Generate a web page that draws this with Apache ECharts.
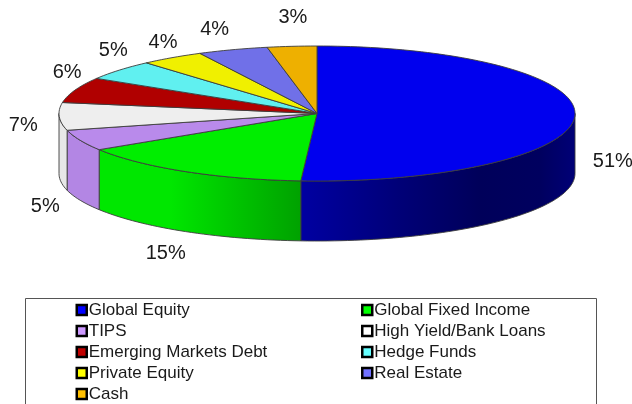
<!DOCTYPE html>
<html><head><meta charset="utf-8">
<style>html,body{margin:0;padding:0;background:#fff;overflow:hidden}#c{width:632px;height:404px}</style>
<script src="https://cdn.jsdelivr.net/npm/echarts@6/dist/echarts.min.js"></script>
</head><body><div id="c"></div>
<script>
const categories = ['Global Equity','Global Fixed Income','TIPS','High Yield/Bank Loans','Emerging Markets Debt','Hedge Funds','Private Equity','Real Estate','Cash'];
const values = [51,15,5,6.6,6.1,4.8,4,4.4,3.1];
const topColors = ['#0000ee','#00ee00','#b98aeb','#eeeeee','#b00000','#60f0f0','#f0f000','#7070e8','#eeb000'];
const legendColors = ['#0000ff','#00ff00','#cc99ff','#ffffff','#c00000','#66ffff','#ffff00','#7070ff','#ffc000'];
const labelOffsets = [[38,46],[-20,22],[-35,6],[-36,9],[-8,-18],[-6,-20],[-9,-15],[-18,-20],[1,-29]];

const CX=317, CY=113.5, RX=258, RY=67.5, DEPTH=60;
const total = values.reduce((a,b)=>a+b,0);
const pt=(deg,dy=0)=>{const t=deg*Math.PI/180;return [CX+RX*Math.sin(t),CY-RY*Math.cos(t)+dy];};
const arc=(a,b,dy=0)=>{const n=Math.max(2,Math.ceil(Math.abs(b-a)/1.5));const r=[];for(let i=0;i<=n;i++)r.push(pt(a+(b-a)*i/n,dy));return r;};
function shade(hex,k){const n=parseInt(hex.slice(1),16);return 'rgb('+[(n>>16)&255,(n>>8)&255,n&255].map(v=>Math.round(v*k)).join(',')+')';}
function wallFill(hex){
  const x0=CX-RX,w=2*RX,s=(x,k)=>({offset:(x-x0)/w,color:shade(hex,k)});
  return {type:'linear',global:true,x:x0,y:0,x2:x0+w,y2:0,colorStops:[s(x0,0.97),s(170,0.97),s(300,0.68),s(400,0.5),s(480,0.38),s(540,0.4),s(575,0.5)]};
}
let cum=0;
const series = categories.map((name,i)=>{
  const start=cum/total*360; cum+=values[i]; const end=cum/total*360;
  return {
    name,type:'custom',coordinateSystem:'none',silent:true,
    itemStyle:{color:legendColors[i]},
    data:[[values[i]]],
    renderItem(){
      const children=[];
      const a=Math.max(start,90),b=Math.min(end,270);
      const stroke={stroke:'#3c3c3c',lineWidth:0.9};
      if(b>a){
        const top=arc(a,b),bottom=arc(a,b,DEPTH).reverse();
        children.push({type:'polygon',shape:{points:top.concat(bottom)},style:{fill:wallFill(topColors[i]),...stroke}});
      }
      children.push({type:'polygon',shape:{points:[[CX,CY]].concat(arc(start,end))},style:{fill:topColors[i],...stroke,lineJoin:'round'}});
      const mid=(start+end)/2,p=pt(mid),front=(mid>90&&mid<270)?DEPTH:0;
      const off=labelOffsets[i];
      const isSide=Math.abs(Math.sin(mid*Math.PI/180))>0.99;
      children.push({type:'text',z2:10,style:{x:p[0]+off[0],y:p[1]+off[1]+(isSide?0:front),text:Math.round(values[i])+'%',fill:'#1a1a1a',font:'20px "Liberation Sans"',align:'center',verticalAlign:'middle'}});
      return {type:'group',children};
    }
  };
});
const legendBase={orient:'vertical',itemWidth:10,itemHeight:10,itemGap:4,padding:0,selectedMode:false,height:120,
  icon:'rect',itemStyle:{borderColor:'#000',borderWidth:2.5},
  textStyle:{fontFamily:'Liberation Sans',fontSize:17,color:'#1a1a1a',lineHeight:17,padding:[0,0,0,-3]}};
const chart=echarts.init(document.getElementById('c'),null,{renderer:'canvas'});
chart.setOption({
  animation:false,backgroundColor:'#fff',
  legend:[
    {...legendBase,left:75.5,top:301.5,data:categories.filter((_,i)=>i%2===0)},
    {...legendBase,left:361,top:301.5,data:categories.filter((_,i)=>i%2===1)}
  ],
  graphic:[{type:'rect',silent:true,z:-1,shape:{x:25.5,y:298.5,width:571,height:130},style:{fill:'#fff',stroke:'#555',lineWidth:1}}],
  series
});
</script></body></html>
